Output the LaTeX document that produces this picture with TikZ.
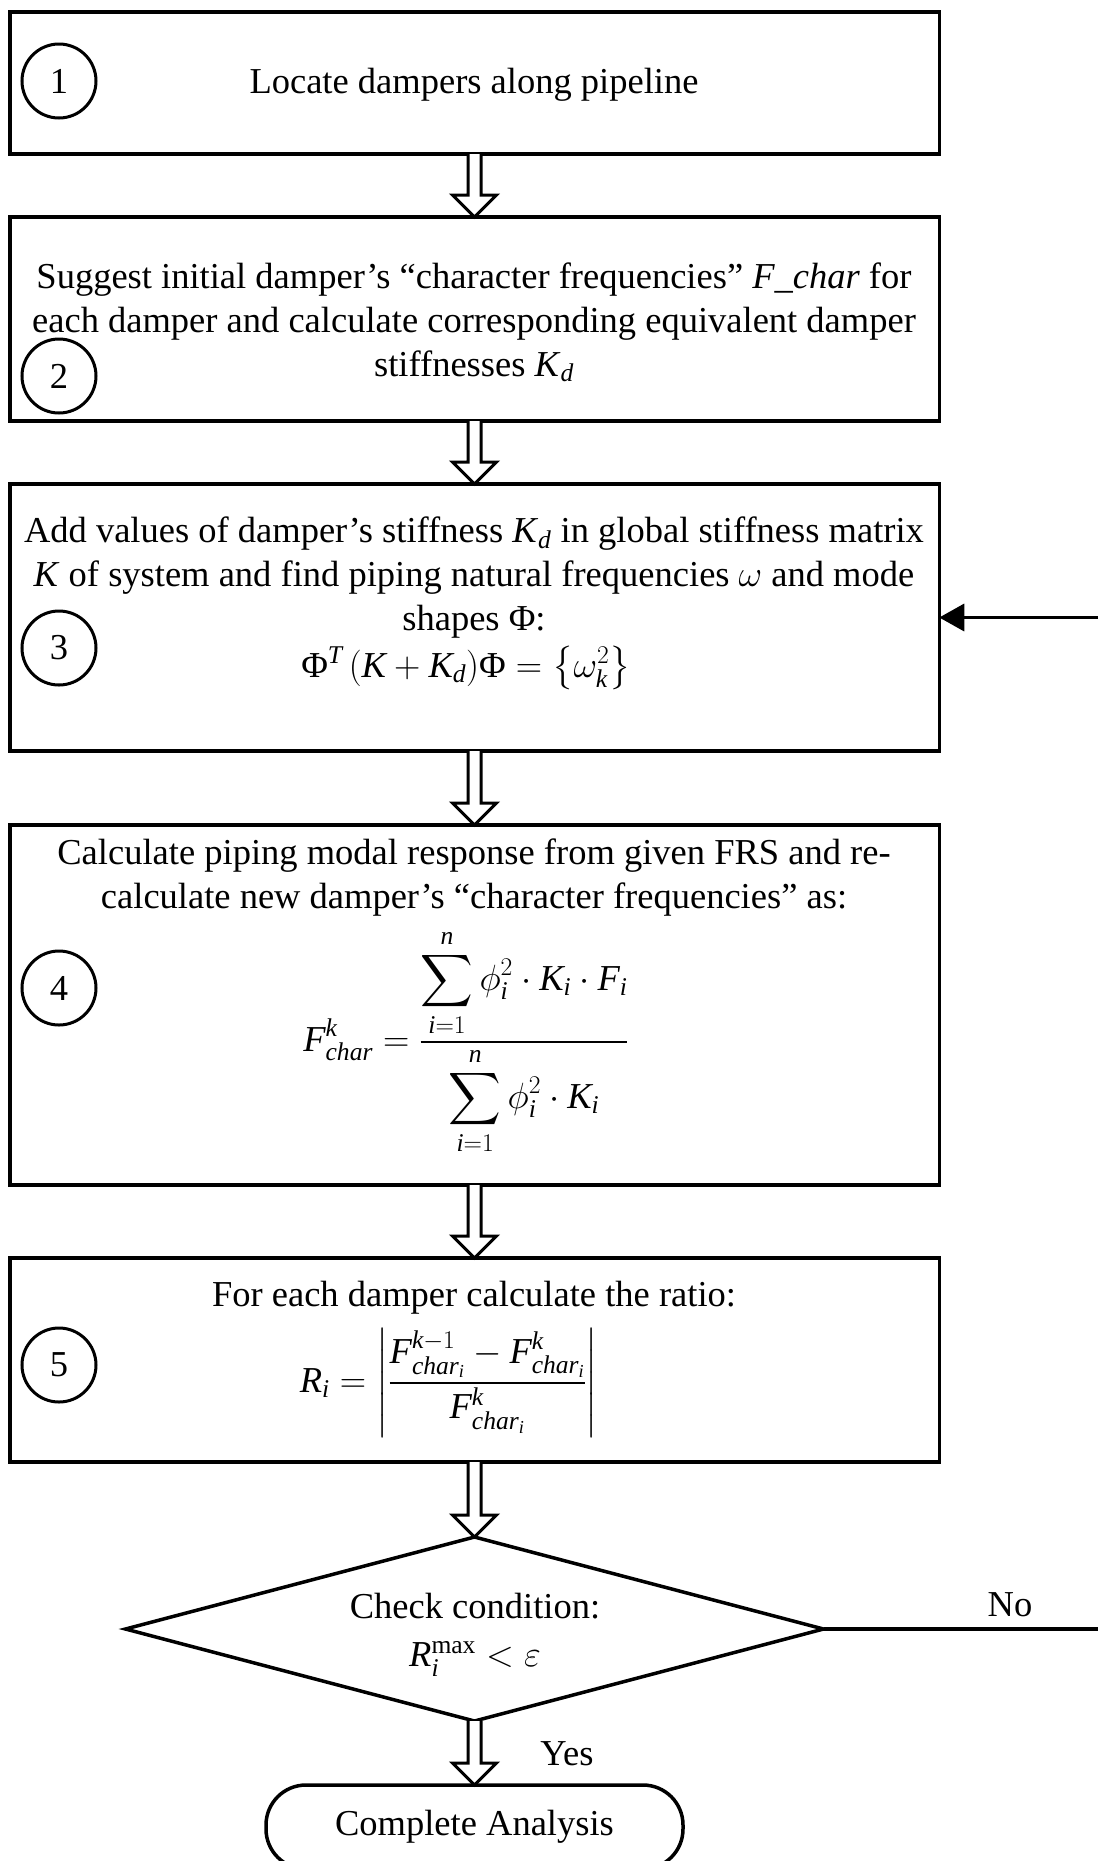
\RequirePackage{fix-cm}
\documentclass[tikz,border=0pt]{standalone}
\usepackage{amsmath}
\usepackage{fontspec}
\setmainfont{Liberation Serif}
\DeclareFontShape{OMX}{cmex}{m}{n}{<->cmex10}{}
\DeclareSymbolFont{tletters}{TU}{\rmdefault}{m}{it}
\def\setmathletter#1{\ifx#1\relax\else\DeclareMathSymbol{#1}{\mathalpha}{tletters}{`#1}\expandafter\setmathletter\fi}
\setmathletter abcdefghijklmnopqrstuvwxyzABCDEFGHIJKLMNOPQRSTUVWXYZ\relax
\usetikzlibrary{shapes.geometric,calc,arrows.meta}
\newcommand{\mainfs}{\fontsize{36.5}{44}\selectfont}
\newcommand{\PhiT}{\text{Φ}}
\tikzset{
 box/.style={draw, line width=3.5pt, minimum width=929.5pt, inner sep=0pt, outer sep=0pt},
 txt/.style={font=\mainfs, inner sep=0pt, align=center},
 numcirc/.style={draw, circle, line width=3pt, minimum size=74pt, inner sep=0pt, font=\mainfs},
 hollow/.style={draw, line width=3pt, fill=white, line join=miter},
 decision/.style={draw, diamond, line width=3.5pt, minimum width=698pt, minimum height=184pt, aspect=3.79, inner sep=0pt, outer sep=0pt},
 terminal/.style={draw, rectangle, rounded corners=40pt, line width=3.5pt, minimum width=417pt, minimum height=84pt, inner sep=0pt, outer sep=0pt, font=\mainfs},
 flow/.style={line width=3.5pt, -{Triangle[length=25pt,width=27pt]}},
 plain/.style={line width=3.5pt}
}
\newcommand{\hollowarrow}[2]{%
 \draw[hollow] ($(#1.south)+(-6.5,0)$) -- ($(#2.north)+(-6.5,-22)$) -- ($(#2.north)+(-22,-22)$) -- (#2.north) -- ($(#2.north)+(22,-22)$) -- ($(#2.north)+(6.5,-22)$) -- ($(#1.south)+(6.5,0)$);}
\begin{document}
\begin{tikzpicture}[x=1pt,y=-1pt]
\useasboundingbox (0,0) rectangle (1098,1861);
% boxes
\node[box, minimum height=142pt] (b1) at (474.5,83) {};
\node[box, minimum height=204pt] (b2) at (474.5,319) {};
\node[box, minimum height=267pt] (b3) at (474.5,617.5) {};
\node[box, minimum height=360pt] (b4) at (474.5,1005) {};
\node[box, minimum height=204pt] (b5) at (474.5,1360) {};
\node[decision] (d) at (474.5,1629) {};
\node[terminal] (t) at (474.5,1827) {Complete Analysis};
% numbers
\node[numcirc] (c1) at (59,81) {1};
\node[numcirc] (c2) at (59,376) {2};
\node[numcirc] (c3) at (59,648) {3};
\node[numcirc] (c4) at (59,988) {4};
\node[numcirc] (c5) at (59,1365) {5};
% texts
\node[txt] (t1) at (474,84.5) {Locate dampers along pipeline};
\node[txt] (t2) at (474,322.5) {Suggest initial damper’s “character frequencies” \textit{F\_char} for\\each damper and calculate corresponding equivalent damper\\stiffnesses \textit{K}\textsubscript{\textit{d}}};
\node[txt] (t3) at (474,578) {Add values of damper’s stiffness \textit{K}\textsubscript{\textit{d}} in global stiffness matrix\\\textit{K} of system and find piping natural frequencies $\omega$ and mode\\shapes Φ:};
\node[txt] (f3) at (466,668) {$\PhiT^{T}\,(K+K_{d})\PhiT=\left\{\omega_k^{2}\right\}$};
\node[txt] (t4) at (474,877.5) {Calculate piping modal response from given FRS and re-\\calculate new damper’s “character frequencies” as:};
\node[txt] (f4) at (466,1042) {$\displaystyle F^{k}_{char}=\frac{\displaystyle\sum_{i=1}^{n}\phi_i^{2}\cdot K_i\cdot F_i}{\displaystyle\sum_{i=1}^{n}\phi_i^{2}\cdot K_i}$};
\node[txt] (t5) at (474,1297.5) {For each damper calculate the ratio:};
\node[txt] (f5) at (449,1383) {$\displaystyle R_i=\left|\frac{F^{k-1}_{char_i}-F^{k}_{char_i}}{F^{k}_{char_i}}\right|$};
\node[txt] (td) at (475,1606) {Check condition:};
\node[txt] (fd) at (475,1659) {$R_i^{\max}<\varepsilon$};
% hollow arrows
\hollowarrow{b1}{b2}
\hollowarrow{b2}{b3}
\hollowarrow{b3}{b4}
\hollowarrow{b4}{b5}
\hollowarrow{b5}{d}
\hollowarrow{d}{t}
\node[txt] (yes) at (567,1754) {Yes};
% no branch / feedback
\coordinate (noEnd) at (1098,1629);
\coordinate (fbStart) at (1098,617.5);
\draw[plain] (d.east) -- (noEnd);
\node[txt] (no) at (1010,1605) {No};
\draw[flow] (fbStart) -- (b3.east);
\end{tikzpicture}
\end{document}
